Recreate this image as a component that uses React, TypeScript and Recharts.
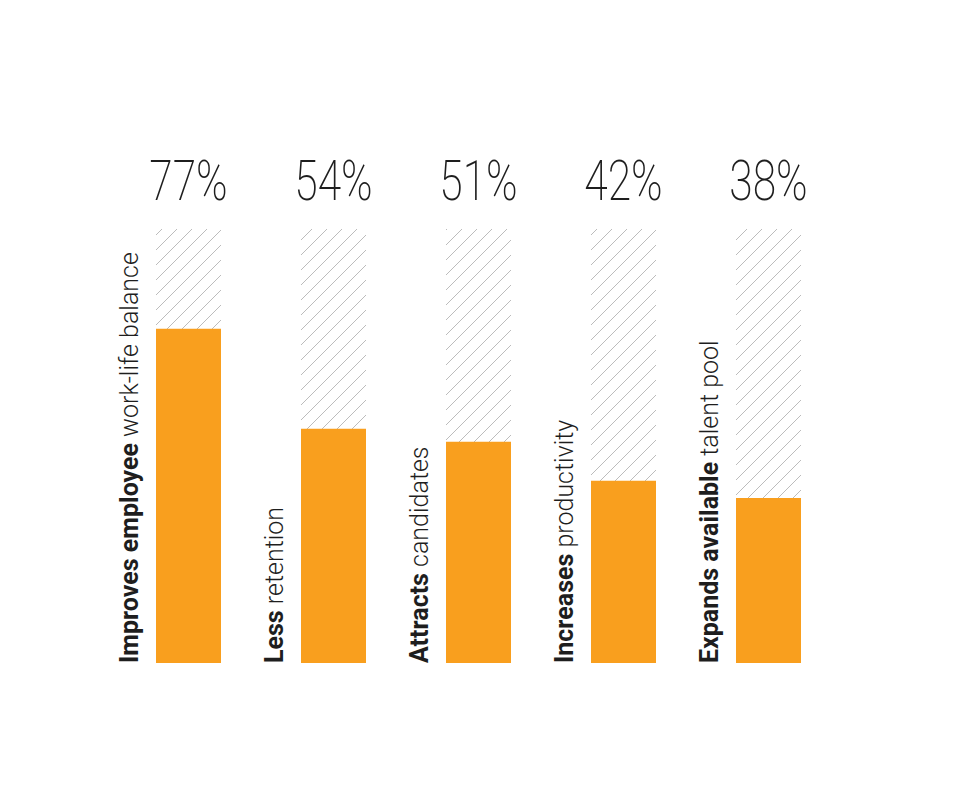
import React from 'react';
import { BarChart, Bar, XAxis, YAxis, LabelList } from 'recharts';

const boldParts = ['Improves employee', 'Less', 'Attracts', 'Increases', 'Expands available'];
const lightParts = ['work-life balance', 'retention', 'candidates', 'productivity', 'talent pool'];
const values = [77, 54, 51, 42, 38];

const data = values.map((v, i) => ({ name: `${boldParts[i]} ${lightParts[i]}`, value: v }));

const PLOT_TOP = 221;
const FONT = 'Roboto, "Noto Sans", sans-serif';

function PercentLabel(props: any) {
  const { x, width, value } = props;
  const cx = Number(x) + Number(width) / 2;
  return (
    <text
      transform={`translate(${cx},${PLOT_TOP - 29}) scale(0.76,1)`}
      x={0}
      y={0}
      textAnchor="middle"
      fontFamily={FONT}
      fontWeight={200}
      fontSize={56}
      fill="#1e1e1e"
    >
      {`${value}%`}
    </text>
  );
}

function CategoryLabel(props: any) {
  const { x, y, height, index } = props;
  const tx = Number(x) - 18;
  const ty = Number(y) + Number(height);
  return (
    <text
      transform={`translate(${tx},${ty}) rotate(-90)`}
      x={0}
      y={0}
      textAnchor="start"
      fontFamily={FONT}
      fontSize={25}
      fill="#1e1e1e"
    >
      <tspan fontWeight={700}>{boldParts[index]}</tspan>
      <tspan fontWeight={300}>{` ${lightParts[index]}`}</tspan>
    </text>
  );
}

export default function App() {
  return (
    <BarChart
      width={948}
      height={780}
      data={data}
      margin={{ top: PLOT_TOP, right: 115, left: 108, bottom: 125 }}
    >
      <defs>
        <pattern id="hatch" patternUnits="userSpaceOnUse" width={15} height={15}>
          <line x1={0} y1={15} x2={15} y2={0} stroke="#bcbcbc" strokeWidth={1} />
          <line x1={-1} y1={1} x2={1} y2={-1} stroke="#bcbcbc" strokeWidth={1} />
          <line x1={14} y1={16} x2={16} y2={14} stroke="#bcbcbc" strokeWidth={1} />
        </pattern>
      </defs>
      <XAxis dataKey="name" hide />
      <YAxis hide domain={[0, 100]} />
      <Bar
        dataKey="value"
        barSize={65}
        fill="#f99f1e"
        background={{ fill: 'url(#hatch)' }}
        isAnimationActive={false}
      >
        <LabelList dataKey="value" content={PercentLabel} />
        <LabelList dataKey="value" content={CategoryLabel} />
      </Bar>
    </BarChart>
  );
}
